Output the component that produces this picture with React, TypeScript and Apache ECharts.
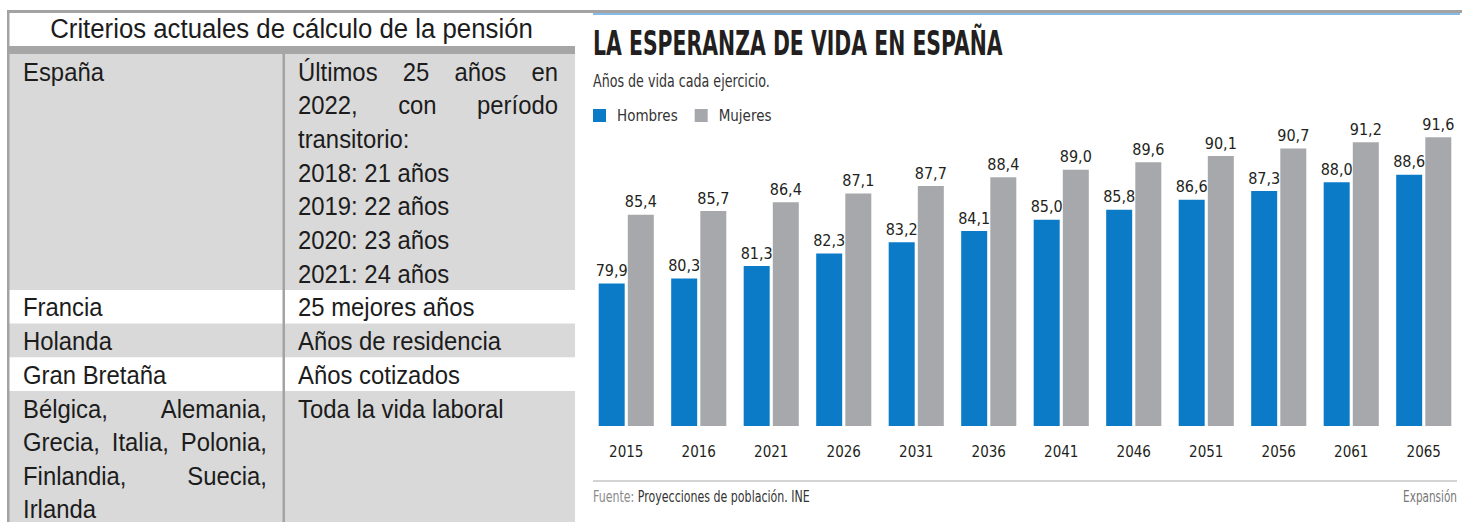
import React, { useEffect, useRef } from "react";
import * as echarts from "echarts";

// ---------- Data ----------
const years = ["2015", "2016", "2021", "2026", "2031", "2036", "2041", "2046", "2051", "2056", "2061", "2065"];
const hombres = [79.9, 80.3, 81.3, 82.3, 83.2, 84.1, 85.0, 85.8, 86.6, 87.3, 88.0, 88.6];
const mujeres = [85.4, 85.7, 86.4, 87.1, 87.7, 88.4, 89.0, 89.6, 90.1, 90.7, 91.2, 91.6];
const seriesNames = ["Hombres", "Mujeres"];

const chartTitle = "LA ESPERANZA DE VIDA EN ESPAÑA";
const chartSubtitle = "Años de vida cada ejercicio.";
const sourceLabel = "Fuente:";
const sourceText = "Proyecciones de población. INE";
const brandText = "Expansión";

const tableTitle = "Criterios actuales de cálculo de la pensión";
const paises = [
  ["España"],
  ["Francia"],
  ["Holanda"],
  ["Gran Bretaña"],
  ["Bélgica, Alemania,", "Grecia, Italia, Polonia,", "Finlandia, Suecia,", "Irlanda"],
];
const criterios = [
  ["Últimos 25 años en", "2022, con período", "transitorio:", "2018: 21 años", "2019: 22 años", "2020: 23 años", "2021: 24 años"],
  ["25 mejores años"],
  ["Años de residencia"],
  ["Años cotizados"],
  ["Toda la vida laboral"],
];
const justificarPais = [[false], [false], [false], [false], [true, true, true, false]];
const justificarCriterio = [[true, true, false, false, false, false, false], [false], [false], [false], [false]];

// ---------- Styles ----------
const SANS = "'Liberation Sans', Arial, sans-serif";
const NARROW = "'Liberation Sans Narrow', 'Arial Narrow', 'DejaVu Sans Condensed', sans-serif";
const BLUE = "#0b7bc8";
const GREY = "#a7a8ab";
const BORDER = "#a3a3a3";
const CELL = "#d9d9d9";

let measureCtx: CanvasRenderingContext2D | null = null;
function measure(text: string, size: number, family: string, weight = "normal") {
  if (!measureCtx) measureCtx = document.createElement("canvas").getContext("2d");
  measureCtx!.font = `${weight} ${size}px ${family}`;
  return measureCtx!.measureText(text).width;
}

function fitText(text: string, x: number, y: number, width: number, size: number, family: string, weight: string, fill: string, align = "left") {
  const w = measure(text, size, family, weight);
  return {
    type: "text",
    x,
    y,
    scaleX: width / w,
    style: { text, fontSize: size, fontFamily: family, fontWeight: weight, fill, align, verticalAlign: "middle", lineHeight: size },
  };
}

const BODY_SIZE = 25;
const BODY_SCALE = 0.955;
const LINE_H = 33.7;

function lineEls(line: string, x0: number, x1: number, cy: number, justify: boolean) {
  const base = { fontSize: BODY_SIZE, fontFamily: SANS, fill: "#1c1c1c", verticalAlign: "middle", lineHeight: 22 };
  if (!justify) {
    return [{ type: "text", x: x0, y: cy, scaleX: BODY_SCALE, style: { ...base, text: line, align: "left" } }];
  }
  const words = line.split(" ");
  const widths = words.map((w) => measure(w, BODY_SIZE, SANS) * BODY_SCALE);
  const total = widths.reduce((a, b) => a + b, 0);
  const gap = words.length > 1 ? (x1 - x0 - total) / (words.length - 1) : 0;
  let cx = x0;
  return words.map((w, i) => {
    const el = { type: "text", x: cx, y: cy, scaleX: BODY_SCALE, style: { ...base, text: w, align: "left" } };
    cx += widths[i] + gap;
    return el;
  });
}

function buildTable() {
  const els: any[] = [];
  let rowTop = 54;
  paises.forEach((p, i) => {
    const n = Math.max(p.length, criterios[i].length);
    const h = n * LINE_H;
    const bottom = Math.min(rowTop + h, 522);
    if (i % 2 === 0) {
      els.push({ type: "rect", shape: { x: 9, y: rowTop, width: 566, height: bottom - rowTop }, style: { fill: CELL } });
    }
    p.forEach((l, j) => {
      els.push(...lineEls(l, 23, 267, Math.min(rowTop + (j + 0.5) * LINE_H + 1, 509), justificarPais[i][j]));
    });
    criterios[i].forEach((l, j) => {
      els.push(...lineEls(l, 298, 558, rowTop + (j + 0.5) * LINE_H + 1, justificarCriterio[i][j]));
    });
    rowTop += h;
  });
  els.push({ type: "rect", shape: { x: 7, y: 46, width: 568, height: 8 }, style: { fill: "#a6a6a6" } });
  els.push({ type: "rect", shape: { x: 7, y: 10, width: 2.5, height: 512 }, style: { fill: BORDER } });
  els.push({ type: "rect", shape: { x: 282.5, y: 54, width: 2.5, height: 468 }, style: { fill: BORDER } });
  els.push(fitText(tableTitle, 291.5, 28.5, 483, 27, SANS, "normal", "#1c1c1c", "center"));
  return els;
}

export default function App() {
  const ref = useRef<HTMLDivElement>(null);
  useEffect(() => {
    if (!ref.current) return;
    const chart = echarts.init(ref.current, undefined, { renderer: "svg" });
    const labelFmt = (p: any) => Number(p.value).toFixed(1).replace(".", ",");
    const label = { show: true, position: "top", distance: 5, formatter: labelFmt, fontSize: 16, fontFamily: NARROW, color: "#231f20" };

    const fuenteW = measure(sourceLabel + " " + sourceText, 16, NARROW);
    const fuenteScale = 217 / fuenteW;

    chart.setOption({
      animation: false,
      backgroundColor: "#ffffff",
      grid: { left: 590, right: 2, top: 126, bottom: 96, containLabel: false },
      legend: {
        left: 593,
        top: 108,
        padding: 0,
        icon: "rect",
        itemWidth: 13,
        itemHeight: 13,
        itemGap: 17,
        data: seriesNames,
        textStyle: { fontSize: 15, fontFamily: NARROW, color: "#333", padding: [0, 0, 0, 6] },
      },
      xAxis: {
        type: "category",
        data: years,
        axisLine: { show: false },
        axisTick: { show: false },
        axisLabel: { fontSize: 15, fontFamily: NARROW, color: "#231f20", margin: 18 },
      },
      yAxis: { type: "value", min: 68.5, max: 92.5, show: false, splitLine: { show: false } },
      series: [
        { name: seriesNames[0], type: "bar", data: hombres, barWidth: 26, barGap: "12%", itemStyle: { color: BLUE }, label },
        { name: seriesNames[1], type: "bar", data: mujeres, barWidth: 26, barGap: "12%", itemStyle: { color: GREY }, label },
      ],
      graphic: [
        { type: "rect", shape: { x: 7, y: 10, width: 1455, height: 3 }, style: { fill: BORDER } },
        { type: "rect", shape: { x: 593, y: 13, width: 867, height: 2 }, style: { fill: "#86bbe8" } },
        ...buildTable(),
        fitText(chartTitle, 593, 43, 410, 34, NARROW, "bold", "#231f20"),
        fitText(chartSubtitle, 593, 81, 177, 18, NARROW, "normal", "#333"),
        { type: "line", shape: { x1: 593, y1: 481, x2: 1457, y2: 481 }, style: { stroke: "#c4c4c4", lineWidth: 1.5 } },
        {
          type: "text",
          x: 593,
          y: 496,
          scaleX: fuenteScale,
          style: {
            text: `{a|${sourceLabel}} {b|${sourceText}}`,
            fontSize: 16,
            fontFamily: NARROW,
            align: "left",
            verticalAlign: "middle",
            rich: {
              a: { fontSize: 16, fontFamily: NARROW, fill: "#8c8c8c" },
              b: { fontSize: 16, fontFamily: NARROW, fill: "#333" },
            },
          },
        },
        fitText(brandText, 1457, 496, 54, 16, NARROW, "normal", "#777", "right"),
      ],
    });
    return () => chart.dispose();
  }, []);
  return <div ref={ref} style={{ position: "absolute", left: 0, top: 0, width: 1462, height: 522, background: "#fff" }} />;
}
